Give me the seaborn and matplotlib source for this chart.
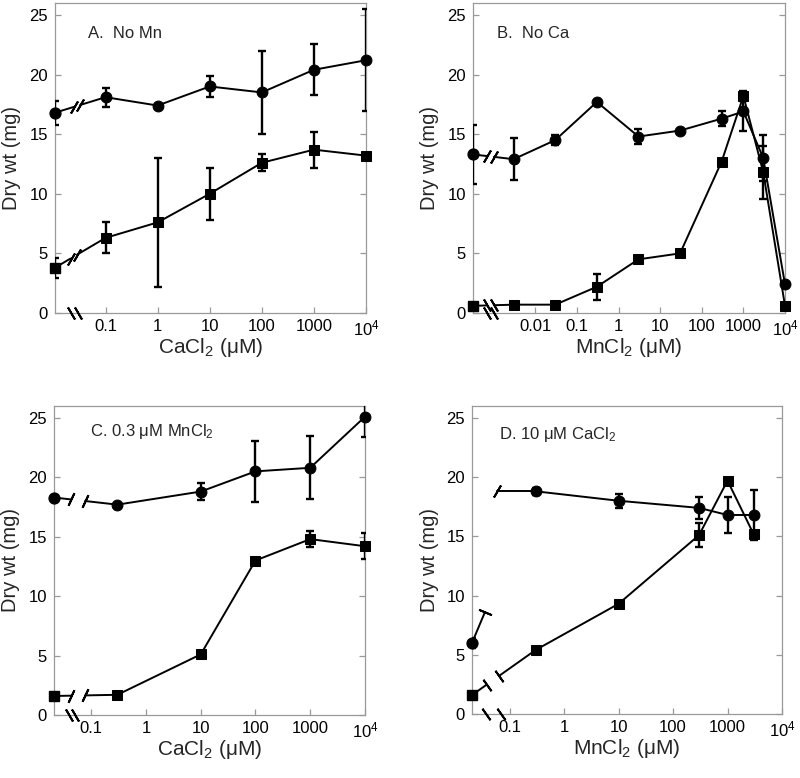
import numpy as np
import pandas as pd
import matplotlib
matplotlib.use('Agg')
import matplotlib.pyplot as plt
import seaborn as sns
from matplotlib.ticker import NullLocator

# ---------------- data (dry wt in mg) ----------------
# A. No Mn  (x = CaCl2 uM)
ca_A = [0.1, 1, 10, 100, 1000, 1e4]
circ_A0, circ_A0_err = 16.8, 1.0
circ_A = [18.1, 17.4, 19.0, 18.5, 20.4, 21.2]
circ_A_err = [0.8, 0, 0.9, 3.5, 2.15, 4.3]
sq_A0, sq_A0_err = 3.8, 0.85
sq_A = [6.3, 7.6, 10.0, 12.6, 13.7, 13.2]
sq_A_err = [1.3, 5.4, 2.2, 0.7, 1.5, 0]

# B. No Ca  (x = MnCl2 uM)
mn_B = [0.003, 0.03, 0.3, 3, 30, 300, 1000, 3000, 1e4]
circ_B0, circ_B0_err = 13.3, 2.5
circ_B = [12.9, 14.5, 17.7, 14.8, 15.3, 16.3, 16.9, 13.0, 2.4]
circ_B_err = [1.75, 0.4, 0, 0.6, 0, 0.6, 1.6, 1.9, 0]
sq_B0, sq_B0_err = 0.6, 0
sq_B = [0.7, 0.7, 2.2, 4.5, 5.0, 12.7, 18.2, 11.8, 0.6]
sq_B_err = [0, 0, 1.1, 0, 0, 0, 0.4, 2.2, 0]

# C. 0.3 uM MnCl2  (x = CaCl2 uM)
ca_C = [0.3, 10, 100, 1000, 1e4]
circ_C0, circ_C0_err = 18.3, 0
circ_C = [17.7, 18.8, 20.5, 20.8, 25.1]
circ_C_err = [0, 0.7, 2.55, 2.65, 1.7]
sq_C0, sq_C0_err = 1.6, 0
sq_C = [1.7, 5.1, 13.0, 14.8, 14.2]
sq_C_err = [0, 0, 0, 0.7, 1.1]

# D. 10 uM CaCl2  (x = MnCl2 uM)
mn_D = [0.3, 10, 300, 1000, 3000]
circ_D0, circ_D0_err = 6.0, 0.4
circ_D = [18.8, 18.0, 17.4, 16.8, 16.8]
circ_D_err = [0.3, 0.6, 0.9, 1.5, 2.1]
sq_D0, sq_D0_err = 1.6, 0
sq_D = [5.4, 9.3, 15.1, 19.7, 15.2]
sq_D_err = [0, 0, 1.0, 0, 0]

ticks_ca = [0.1, 1, 10, 100, 1000, 1e4]
ticks_mn = [0.01, 0.1, 1, 10, 100, 1000, 1e4]
labels_ca = ['0.1', '1', '10', '100', '1000', '10$^4$']
labels_mn = ['0.01', '0.1', '1', '10', '100', '1000', '10$^4$']

# ---------------- style ----------------
sns.set_theme(style='ticks')
plt.rcParams['font.family'] = ['Liberation Sans', 'DejaVu Sans']
plt.rcParams['mathtext.fontset'] = 'custom'
plt.rcParams['mathtext.rm'] = 'Liberation Sans'
plt.rcParams['mathtext.it'] = 'Liberation Sans:italic'
plt.rcParams['mathtext.bf'] = 'Liberation Sans:bold'

LW = 1.4
MS = 7.8
GRAY = '0.6'
BMS = 10   # size of the break marks


def perp_angle(ax, p, q):
    a = ax.transData.transform(p)
    b = ax.transData.transform(q)
    return np.degrees(np.arctan2(b[1] - a[1], b[0] - a[0]))


def broken_link(ax, x0, y0, x1, y1, fa, fb, angles=(-30, -30), flat=False):
    lo, hi = np.log10(ax.get_xlim())
    la, lb = lo + fa * (hi - lo), lo + fb * (hi - lo)
    l0, l1 = np.log10(x0), np.log10(x1)
    ya = y0 + (y1 - y0) * (la - l0) / (l1 - l0)
    yb = y1 if flat else y0 + (y1 - y0) * (lb - l0) / (l1 - l0)
    xa, xb = 10 ** la, 10 ** lb
    ax.plot([x0, xa], [y0, ya], color='black', lw=LW, clip_on=False, zorder=2)
    ax.plot([xb, x1], [yb, y1], color='black', lw=LW, clip_on=False, zorder=2)
    ang_a, ang_b = angles
    if ang_a is None:
        ang_a = perp_angle(ax, (x0, y0), (xa, ya))
    if ang_b is None:
        ang_b = perp_angle(ax, (xb, yb), (x1, y1))
    for xx, yy, an in [(xa, ya, ang_a), (xb, yb, ang_b)]:
        ax.plot([xx], [yy], marker=(2, 2, an), ms=BMS, mew=LW, color='black',
                ls='none', clip_on=False, zorder=2)


def series(ax, x, y0, e0, y, err, marker, fa, fb, angles, flat=False):
    xmin = ax.get_xlim()[0]
    df = pd.DataFrame({'conc': x, 'wt': y})
    sns.lineplot(data=df, x='conc', y='wt', ax=ax, color='black', lw=LW,
                 marker=marker, markersize=MS, markeredgecolor='black',
                 errorbar=None, clip_on=False, zorder=3)
    ex = [xx for xx, ee in zip(x, err) if ee > 0]
    ey = [yy for yy, ee in zip(y, err) if ee > 0]
    ee_ = [ee for ee in err if ee > 0]
    if ee_:
        ax.errorbar(ex, ey, yerr=ee_, fmt='none', ecolor='black',
                    elinewidth=1.7, capsize=2.8, capthick=1.7, zorder=3)
    if e0 > 0:
        ax.errorbar([xmin], [y0], yerr=[e0], fmt='none', ecolor='black',
                    elinewidth=1.7, capsize=2.8, capthick=1.7, zorder=3)
    ax.plot([xmin], [y0], marker=marker, ms=MS, color='black', ls='none',
            clip_on=False, zorder=4)
    broken_link(ax, xmin, y0, x[0], y[0], fa, fb, angles, flat)


def setup(ax, lo_exp, ticks, labels, xlabel, title, tpos, axbreak, axang):
    ax.set_xscale('log')
    ax.set_xlim(10 ** lo_exp, 1e4)
    ax.set_ylim(0, 26)
    ax.set_yticks([0, 5, 10, 15, 20, 25])
    ax.set_xticks(ticks)
    ax.set_xticklabels(labels)
    ax.xaxis.set_minor_locator(NullLocator())
    for s in ax.spines.values():
        s.set_color(GRAY)
        s.set_linewidth(0.9)
    ax.tick_params(axis='both', direction='in', color=GRAY, length=4,
                   width=0.9, labelsize=12, labelcolor='black')
    ax.tick_params(axis='y', right=True, pad=5)
    ax.tick_params(axis='x', top=False, pad=4)
    ax.set_xlabel(xlabel, fontsize=15)
    ax.set_ylabel('Dry wt (mg)', fontsize=14.5)
    ax.yaxis.set_label_coords(-0.108, 0.5)
    ax.xaxis.set_label_coords(0.5, -0.075)
    ax.text(tpos[0], tpos[1], title, transform=ax.transAxes, fontsize=12,
            va='center', ha='left')
    ax.plot(axbreak, [0, 0], transform=ax.transAxes, marker=(2, 2, axang),
            ms=BMS, mew=LW, color='black', ls='none', clip_on=False, zorder=5)


fig = plt.figure(figsize=(8, 7.78), dpi=100)
axA = fig.add_axes([55 / 800, 1 - 313 / 778, 311 / 800, 310 / 778])
axB = fig.add_axes([473 / 800, 1 - 313 / 778, 312 / 800, 310 / 778])
axC = fig.add_axes([54 / 800, 1 - 715 / 778, 311 / 800, 309 / 778])
axD = fig.add_axes([472 / 800, 1 - 714 / 778, 310 / 800, 308 / 778])

setup(axA, -1.97, ticks_ca, labels_ca, 'CaCl$_2$ (μM)', 'A.  No Mn',
      (0.106, 0.90), [0.052, 0.074], 30)
setup(axB, -3.5, ticks_mn, labels_mn, 'MnCl$_2$ (μM)', 'B.  No Ca',
      (0.077, 0.90), [0.045, 0.067], 30)
setup(axC, -1.68, ticks_ca, labels_ca, 'CaCl$_2$ (μM)', 'C. 0.3 μM MnCl$_2$',
      (0.116, 0.916), [0.048, 0.068], 30)
setup(axD, -1.69, ticks_ca, labels_ca, 'MnCl$_2$ (μM)', 'D. 10 μM CaCl$_2$',
      (0.087, 0.909), [0.045, 0.094], 35)

series(axA, ca_A, circ_A0, circ_A0_err, circ_A, circ_A_err, 'o', 0.062, 0.081, (-30, -30))
series(axA, ca_A, sq_A0, sq_A0_err, sq_A, sq_A_err, 's', 0.050, 0.071, (-30, -30))

series(axB, mn_B, circ_B0, circ_B0_err, circ_B, circ_B_err, 'o', 0.045, 0.067, (-30, -30))
series(axB, mn_B, sq_B0, sq_B0_err, sq_B, sq_B_err, 's', 0.045, 0.067, (30, 30))

series(axC, ca_C, circ_C0, circ_C0_err, circ_C, circ_C_err, 'o', 0.055, 0.10, (-25, -25))
series(axC, ca_C, sq_C0, sq_C0_err, sq_C, sq_C_err, 's', 0.055, 0.10, (-25, -25))

series(axD, mn_D, circ_D0, circ_D0_err, circ_D, circ_D_err, 'o', 0.042, 0.08, (None, -30), flat=True)
series(axD, mn_D, sq_D0, sq_D0_err, sq_D, sq_D_err, 's', 0.047, 0.087, (None, None))

fig.savefig('out.png', dpi=100)
